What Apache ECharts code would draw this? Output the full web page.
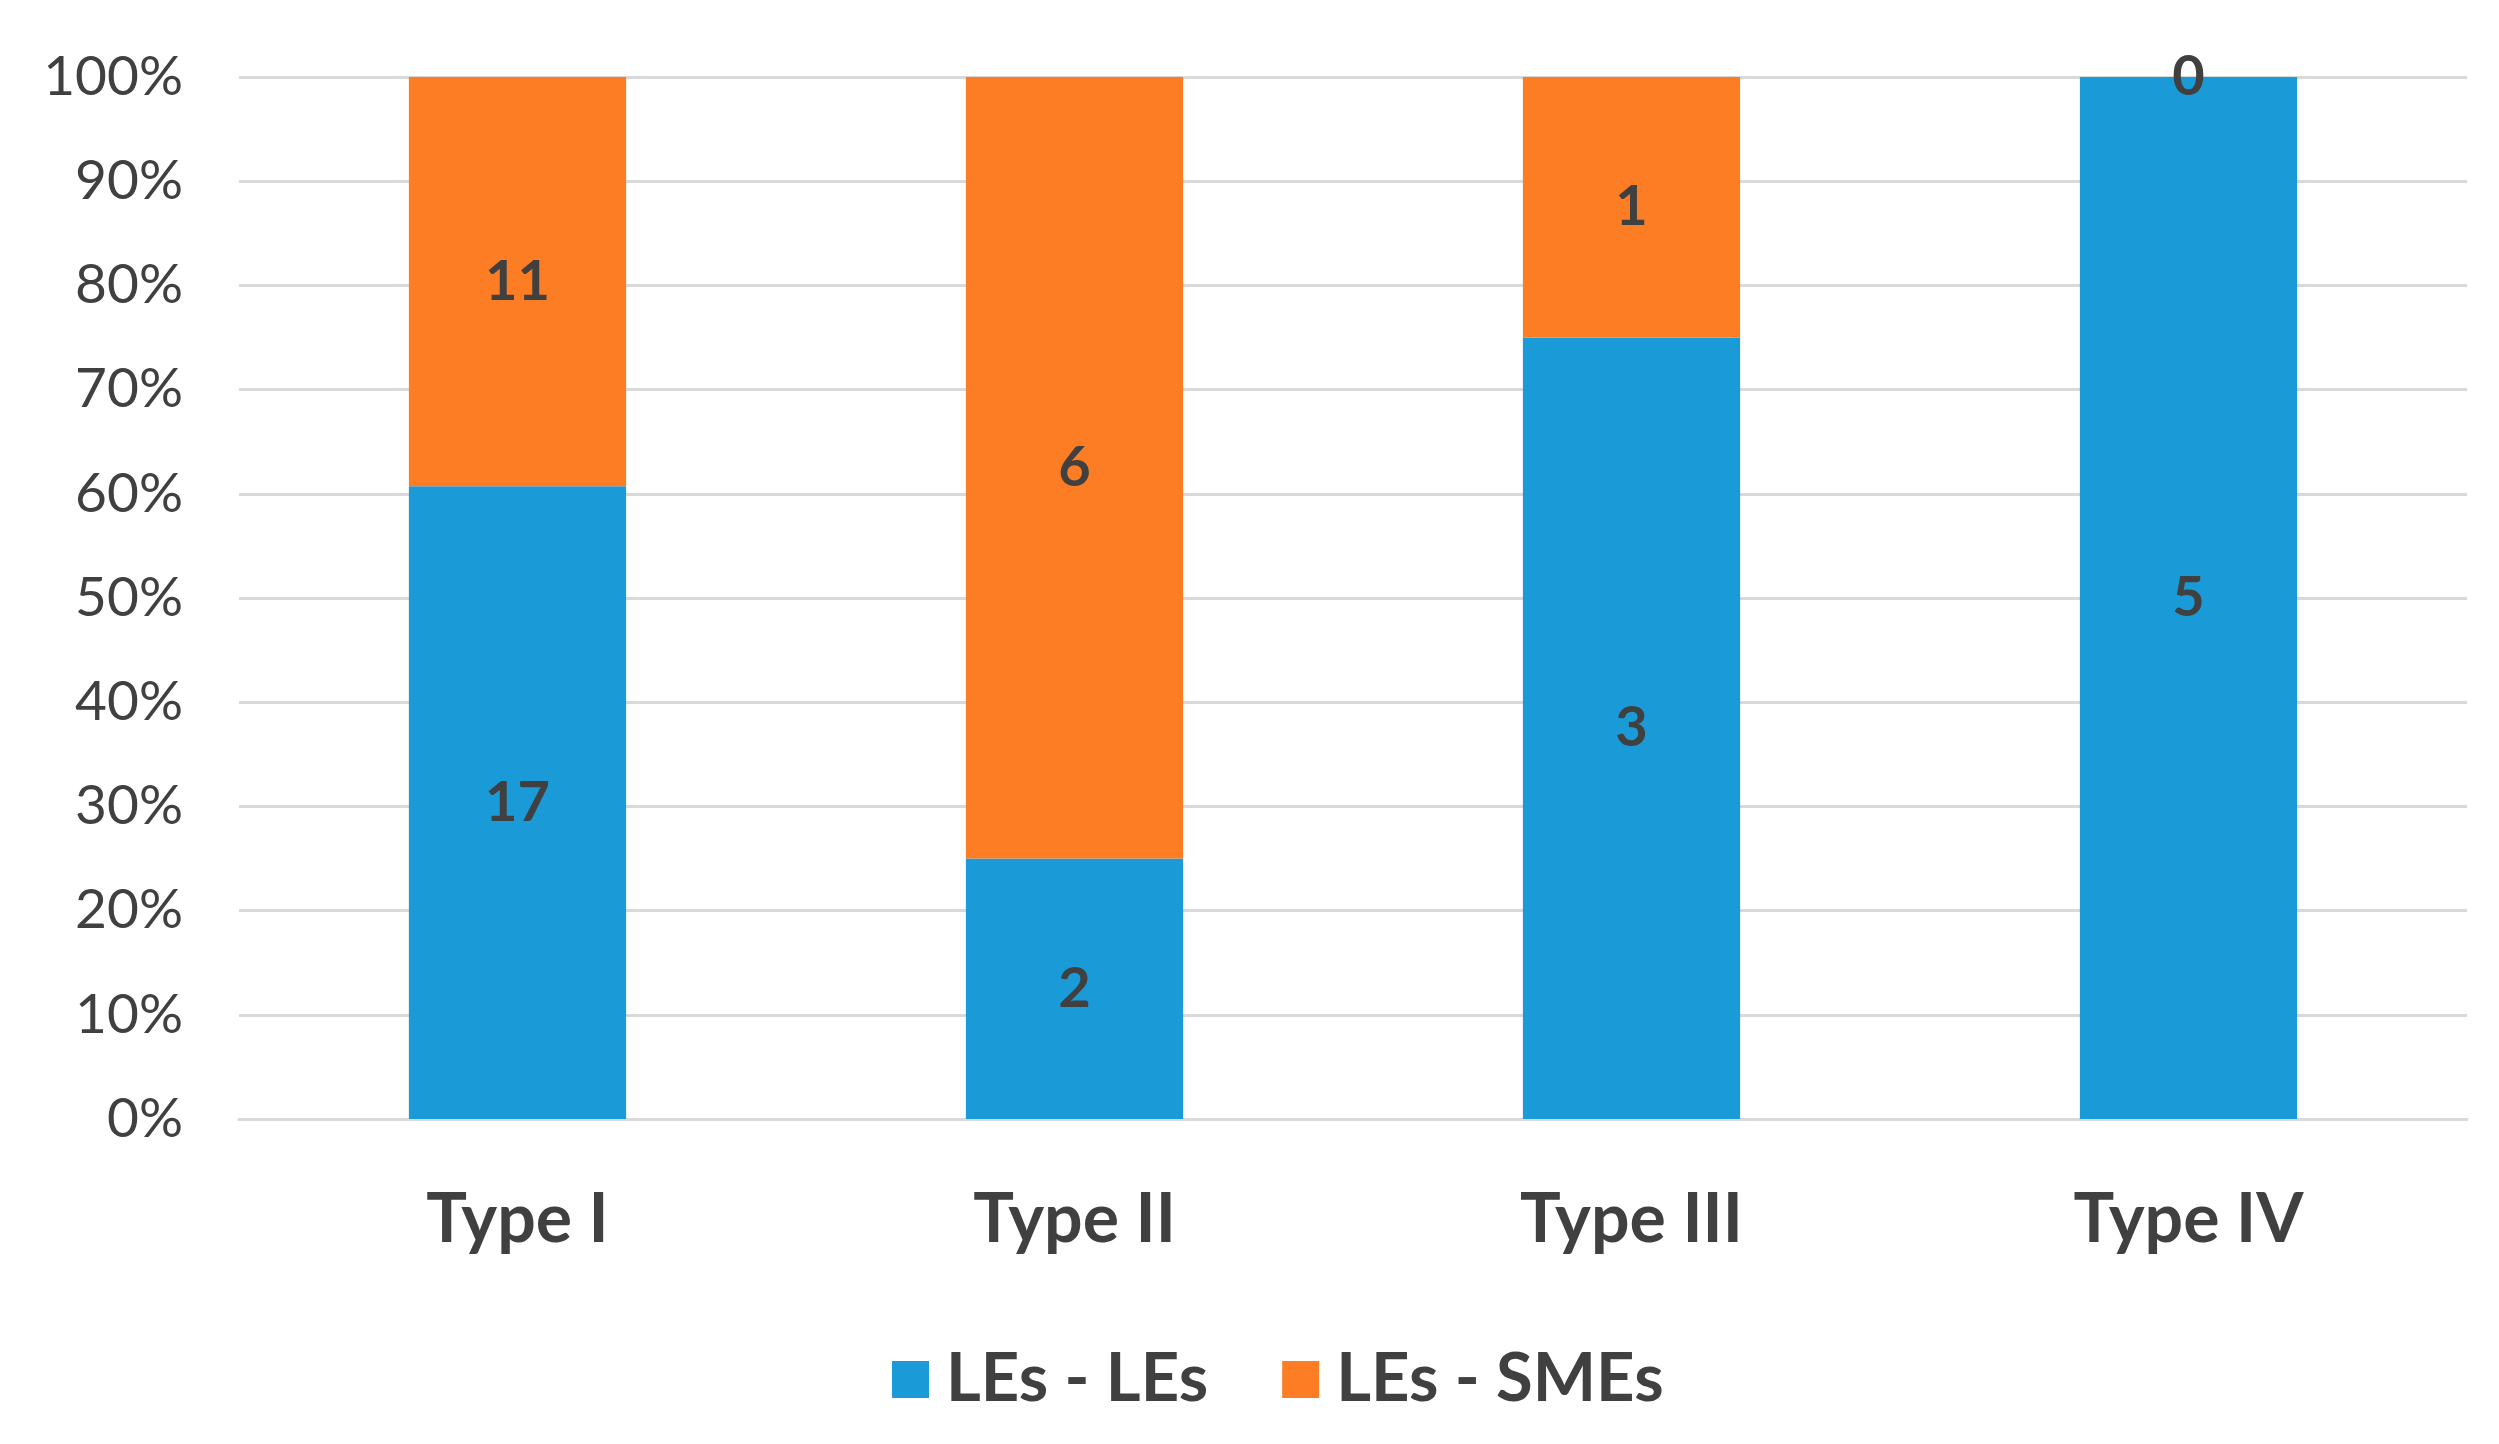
<!DOCTYPE html>
<html>
<head>
<meta charset="utf-8">
<script src="https://cdn.jsdelivr.net/npm/echarts@6/dist/echarts.min.js"></script>
<style>
html,body{margin:0;padding:0;background:#fff;}
#chart{width:2499px;height:1444px;}
</style>
</head>
<body>
<div id="chart"></div>
<script>
const categories = ['Type I', 'Type II', 'Type III', 'Type IV'];
const seriesNames = ['LEs - LEs', 'LEs - SMEs'];
const lesLes = [17, 2, 3, 5];
const lesSmes = [11, 6, 1, 0];
const yTicks = [0, 10, 20, 30, 40, 50, 60, 70, 80, 90, 100];

const totals = categories.map((c, i) => lesLes[i] + lesSmes[i]);
function toData(arr) {
  return arr.map((v, i) => ({ value: v / totals[i] * 100, count: v }));
}

const FONT = 'Lato';
const labelStyle = {
  show: true,
  position: 'inside',
  formatter: p => String(p.data.count),
  fontFamily: FONT,
  fontSize: 56,
  fontWeight: 'bold',
  color: '#404040'
};

const chart = echarts.init(document.getElementById('chart'));
chart.setOption({
  animation: false,
  backgroundColor: '#ffffff',
  grid: { left: 239, right: 32, top: 77, bottom: 325, containLabel: false },
  legend: {
    left: 887,
    top: 1341,
    itemWidth: 37,
    itemHeight: 37,
    itemGap: 74,
    icon: 'rect',
    textStyle: { fontFamily: FONT, fontSize: 67, fontWeight: 'bold', color: '#404040', padding: [0, 0, 0, 12] },
    data: seriesNames
  },
  xAxis: {
    type: 'category',
    data: categories,
    axisLine: { show: true, lineStyle: { color: '#d9d9d9', width: 3 } },
    axisTick: { show: false },
    axisLabel: { fontFamily: FONT, fontSize: 68, fontWeight: 'bold', color: '#404040', margin: 67 }
  },
  yAxis: {
    type: 'value',
    min: yTicks[0],
    max: yTicks[yTicks.length - 1],
    interval: 10,
    axisLine: { show: false },
    axisTick: { show: false },
    splitLine: { lineStyle: { color: '#d9d9d9', width: 3 } },
    axisLabel: { fontFamily: FONT, fontSize: 55, color: '#404040', margin: 56, formatter: v => v + '%' }
  },
  series: [
    {
      name: seriesNames[0], type: 'bar', stack: 'total', barWidth: '39%',
      itemStyle: { color: '#1A9AD6' },
      label: labelStyle,
      data: toData(lesLes)
    },
    {
      name: seriesNames[1], type: 'bar', stack: 'total', barWidth: '39%',
      itemStyle: { color: '#FD7D24' },
      label: labelStyle,
      data: toData(lesSmes)
    }
  ]
});
</script>
</body>
</html>
